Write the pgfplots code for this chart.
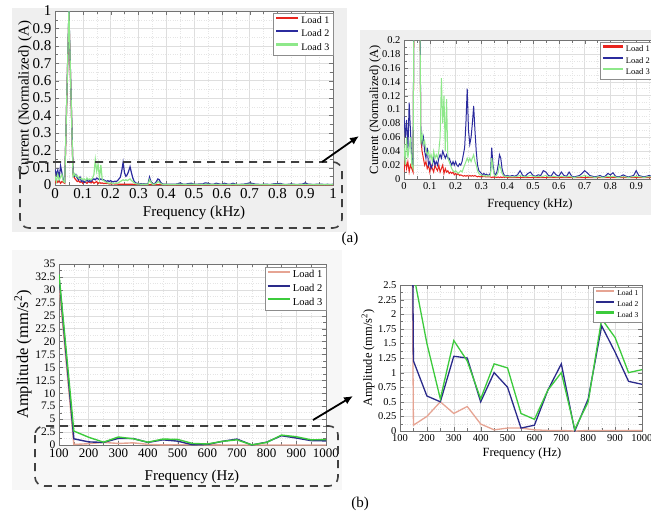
\documentclass[border=0pt]{standalone}
\usepackage{fontspec}
\setmainfont{Liberation Serif}
\usepackage{pgfplots}
\pgfplotsset{compat=1.18}
\usepackage{pgfplotstable}
\usetikzlibrary{arrows.meta}

\definecolor{ared}{HTML}{E8251E}
\definecolor{ablue}{HTML}{2B2B9E}
\definecolor{agreen}{HTML}{8EE88A}
\definecolor{bpink}{HTML}{E6A493}
\definecolor{bblue}{HTML}{2A2A8A}
\definecolor{bgreen}{HTML}{3CCB3C}
\definecolor{panelgray}{HTML}{EFEFEF}

\newcommand\fs[1]{\fontsize{#1}{#1}\selectfont}

% current spectra (kHz), used by (a) left and (a) right
\pgfplotstableread{
f     l1    l2    l3
0.000 0.010 0.090 0.050
0.005 0.030 0.060 0.020
0.010 0.015 0.085 0.060
0.015 0.025 0.040 0.030
0.020 0.010 0.110 0.045
0.025 0.020 0.070 0.060
0.030 0.015 0.030 0.020
0.035 0.010 0.020 0.015
0.050 0.980 1.000 1.000
0.065 0.060 0.070 0.050
0.070 0.040 0.050 0.065
0.075 0.030 0.060 0.050
0.080 0.020 0.040 0.055
0.085 0.025 0.030 0.040
0.090 0.015 0.045 0.035
0.095 0.020 0.020 0.040
0.100 0.010 0.025 0.030
0.105 0.020 0.015 0.035
0.110 0.015 0.020 0.025
0.115 0.010 0.030 0.040
0.120 0.020 0.020 0.030
0.125 0.015 0.025 0.035
0.130 0.012 0.020 0.030
0.135 0.020 0.030 0.040
0.140 0.010 0.035 0.060
0.145 0.015 0.030 0.145
0.150 0.020 0.040 0.080
0.155 0.008 0.035 0.120
0.160 0.015 0.030 0.040
0.165 0.010 0.035 0.115
0.170 0.012 0.030 0.030
0.175 0.008 0.030 0.025
0.180 0.010 0.025 0.020
0.185 0.008 0.020 0.015
0.190 0.010 0.025 0.012
0.195 0.006 0.020 0.010
0.200 0.008 0.025 0.012
0.205 0.006 0.020 0.010
0.210 0.008 0.018 0.008
0.215 0.005 0.022 0.010
0.220 0.006 0.020 0.012
0.225 0.005 0.025 0.010
0.230 0.004 0.035 0.015
0.235 0.005 0.045 0.020
0.240 0.004 0.080 0.025
0.245 0.005 0.130 0.030
0.250 0.004 0.070 0.025
0.255 0.005 0.050 0.030
0.260 0.004 0.060 0.025
0.265 0.005 0.080 0.030
0.270 0.004 0.105 0.035
0.275 0.005 0.070 0.025
0.280 0.004 0.040 0.020
0.285 0.003 0.020 0.012
0.290 0.004 0.012 0.008
0.295 0.003 0.010 0.006
0.300 0.004 0.008 0.006
0.305 0.003 0.006 0.005
0.310 0.004 0.008 0.004
0.315 0.003 0.006 0.005
0.320 0.003 0.007 0.004
0.325 0.003 0.005 0.005
0.330 0.003 0.006 0.004
0.335 0.003 0.008 0.005
0.340 0.002 0.045 0.030
0.345 0.003 0.020 0.015
0.350 0.002 0.008 0.005
0.355 0.003 0.006 0.004
0.360 0.002 0.010 0.006
0.365 0.003 0.020 0.010
0.370 0.002 0.035 0.020
0.375 0.003 0.030 0.015
0.380 0.002 0.015 0.008
0.385 0.003 0.008 0.005
0.390 0.002 0.005 0.004
0.395 0.003 0.004 0.003
0.400 0.002 0.005 0.004
0.410 0.002 0.004 0.003
0.420 0.002 0.005 0.003
0.430 0.002 0.004 0.003
0.440 0.002 0.006 0.004
0.450 0.002 0.012 0.005
0.460 0.002 0.005 0.004
0.470 0.002 0.004 0.003
0.480 0.002 0.008 0.004
0.490 0.002 0.010 0.005
0.500 0.002 0.005 0.004
0.510 0.002 0.004 0.003
0.520 0.002 0.006 0.004
0.530 0.002 0.005 0.003
0.540 0.002 0.012 0.004
0.550 0.002 0.010 0.005
0.560 0.002 0.005 0.003
0.570 0.002 0.004 0.003
0.580 0.002 0.010 0.004
0.590 0.002 0.006 0.003
0.600 0.002 0.004 0.003
0.610 0.002 0.010 0.004
0.620 0.002 0.005 0.003
0.630 0.002 0.004 0.003
0.640 0.002 0.010 0.004
0.650 0.002 0.004 0.003
0.660 0.002 0.003 0.002
0.670 0.002 0.004 0.003
0.680 0.002 0.005 0.003
0.690 0.002 0.008 0.004
0.700 0.002 0.012 0.005
0.710 0.002 0.009 0.004
0.720 0.002 0.005 0.003
0.730 0.002 0.004 0.003
0.740 0.002 0.003 0.002
0.750 0.002 0.004 0.003
0.760 0.002 0.005 0.003
0.770 0.002 0.003 0.002
0.780 0.002 0.004 0.003
0.790 0.002 0.008 0.004
0.800 0.002 0.006 0.003
0.810 0.002 0.009 0.004
0.820 0.002 0.004 0.003
0.830 0.002 0.003 0.002
0.840 0.002 0.004 0.003
0.850 0.002 0.006 0.003
0.860 0.002 0.004 0.003
0.870 0.002 0.003 0.002
0.880 0.002 0.004 0.003
0.890 0.002 0.005 0.003
0.900 0.002 0.012 0.004
0.910 0.002 0.005 0.003
0.920 0.002 0.004 0.003
0.930 0.002 0.003 0.002
0.940 0.002 0.004 0.003
0.950 0.002 0.005 0.003
0.960 0.002 0.004 0.003
0.970 0.002 0.003 0.002
0.980 0.002 0.004 0.003
0.990 0.002 0.003 0.002
1.000 0.002 0.004 0.003
}\cur

% vibration amplitude (Hz), used by (b) left and (b) right
\pgfplotstableread{
f    l1    l2    l3
100  31.0  32.5  33.0
150  0.10  1.20  2.70
200  0.25  0.60  1.50
250  0.50  0.50  0.55
300  0.30  1.28  1.55
350  0.42  1.25  1.20
400  0.12  0.50  0.55
450  0.02  1.00  1.15
500  0.05  0.75  1.08
550  0.05  0.05  0.30
600  0.02  0.10  0.20
650  0.01  0.70  0.70
700  0.01  1.15  1.00
750  0.00  0.00  0.03
800  0.01  0.55  0.50
850  0.01  1.80  1.92
900  0.01  1.35  1.60
950  0.01  0.85  1.00
1000 0.01  0.80  1.05
}\vib

\pgfplotsset{
  matstyle/.style={
    scale only axis, anchor=north west,
    axis line style={black!55}, tick style={black!55},
    tick align=inside, grid=both, minor tick num=1,
    major grid style={black!13}, minor grid style={black!10, dotted},
    /pgf/number format/assume math mode=true,
    /pgf/number format/fixed, /pgf/number format/precision=3,
    /pgf/number format/1000 sep={},
    scaled ticks=false,
    axis background/.style={fill=white},
    legend cell align=left,
    legend style={draw=black!45, fill=white, inner sep=1.5pt},
  },
  samp/.style={legend image code/.code={%
    \draw[##1, line width=2.2pt, yshift=0.3em] (0pt,0pt) -- (#1,0pt);}},
}

\begin{document}
\begin{tikzpicture}
\useasboundingbox (0pt,0pt) rectangle (651pt,-515pt);
\clip (0pt,0pt) rectangle (651pt,-515pt);

\fill[panelgray] (12pt,-8pt) rectangle (347pt,-232pt);
\fill[panelgray] (360pt,-30pt) rectangle (651pt,-215pt);
\fill[black!3] (12pt,-250pt) rectangle (342pt,-490pt);

% (a) left
\begin{axis}[matstyle, samp=22pt,
  at={(55pt,-11pt)}, width=278pt, height=174pt,
  xmin=0, xmax=1, ymin=0, ymax=1,
  xtick={0,0.1,0.2,0.3,0.4,0.5,0.6,0.7,0.8,0.9,1},
  ytick={0,0.1,0.2,0.3,0.4,0.5,0.6,0.7,0.8,0.9,1},
  ticklabel style={font=\fs{15}},
  xlabel={Frequency (kHz)}, ylabel={Current (Normalized) (A)},
  label style={font=\fs{15}},
  xlabel style={at={(axis description cs:0.5,-0.161)}, anchor=center},
  ylabel style={at={(axis description cs:-0.108,0.5)}, anchor=center},
  legend style={at={(1,0.99)}, anchor=north east, font=\fs{10}, row sep=1pt},
]
\addplot[ared, line width=1.2pt] table[x=f, y=l1] {\cur};
\addplot[ablue, line width=1.2pt] table[x=f, y=l2] {\cur};
\addplot[agreen, line width=1.2pt] table[x=f, y=l3] {\cur};
\legend{Load 1, Load 2, Load 3}
\end{axis}

% (a) right, zoom of the dashed area
\begin{axis}[matstyle, samp=20pt,
  at={(404pt,-40pt)}, width=258pt, height=139pt,
  xmin=0, xmax=1, ymin=0, ymax=0.2,
  xtick={0,0.1,0.2,0.3,0.4,0.5,0.6,0.7,0.8,0.9,1},
  ytick={0,0.02,0.04,0.06,0.08,0.1,0.12,0.14,0.16,0.18,0.2},
  ticklabel style={font=\fs{10.5}},
  xlabel={Frequency (kHz)}, ylabel={Current (Normalized) (A)},
  label style={font=\fs{12.5}},
  xlabel style={at={(axis description cs:0.488,-0.187)}, anchor=center},
  ylabel style={at={(axis description cs:-0.112,0.5)}, anchor=center},
  legend style={at={(0.76,0.985)}, anchor=north west, font=\fs{8.5}, row sep=0pt},
]
\addplot[ared, line width=1pt] table[x=f, y=l1] {\cur};
\addplot[ablue, line width=1pt] table[x=f, y=l2] {\cur};
\addplot[agreen, line width=1pt] table[x=f, y=l3] {\cur};
\legend{Load 1, Load 2, Load 3}
\end{axis}

% (b) left
\begin{axis}[matstyle, samp=22pt,
  at={(59pt,-264pt)}, width=267pt, height=181pt,
  xmin=100, xmax=1000, ymin=0, ymax=35,
  xtick={100,200,300,400,500,600,700,800,900,1000},
  ytick={0,2.5,5,7.5,10,12.5,15,17.5,20,22.5,25,27.5,30,32.5,35},
  xticklabel style={font=\fs{13}}, yticklabel style={font=\fs{11.5}},
  xlabel={Frequency (Hz)}, ylabel={Amplitude (mm/s\textsuperscript{2})},
  xlabel style={font=\fs{15}, at={(axis description cs:0.498,-0.177)}, anchor=center},
  ylabel style={font=\fs{16.5}, at={(axis description cs:-0.135,0.5)}, anchor=center},
  legend style={at={(1,0.985)}, anchor=north east, font=\fs{10.5}, row sep=1pt},
]
\addplot[bpink, line width=1.4pt] table[x=f, y=l1] {\vib};
\addplot[bblue, line width=1.4pt] table[x=f, y=l2] {\vib};
\addplot[bgreen, line width=1.4pt] table[x=f, y=l3] {\vib};
\legend{Load 1, Load 2, Load 3}
\end{axis}

% (b) right, zoom of the dashed area
\begin{axis}[matstyle, samp=18pt,
  at={(400pt,-285pt)}, width=242pt, height=146pt,
  xmin=100, xmax=1000, ymin=0, ymax=2.5,
  xtick={100,200,300,400,500,600,700,800,900,1000},
  ytick={0,0.25,0.5,0.75,1,1.25,1.5,1.75,2,2.25,2.5},
  ticklabel style={font=\fs{10.5}},
  xlabel={Frequency (Hz)}, ylabel={Amplitude (mm/s\textsuperscript{2})},
  label style={font=\fs{12.5}},
  xlabel style={at={(axis description cs:0.504,-0.151)}, anchor=center},
  ylabel style={at={(axis description cs:-0.132,0.5)}, anchor=center},
  legend style={at={(1,0.986)}, anchor=north east, font=\fs{7.5}, row sep=0pt},
]
\addplot[bpink, line width=1.3pt] table[x=f, y=l1] {\vib};
\addplot[bblue, line width=1.3pt] table[x=f, y=l2] {\vib};
\addplot[bgreen, line width=1.3pt] table[x=f, y=l3] {\vib};
\legend{Load 1, Load 2, Load 3}
\end{axis}

% dashed zoom frames and arrows
\draw[black!75, line width=1.6pt, dash pattern=on 8pt off 6pt, rounded corners=9pt]
  (20pt,-162pt) rectangle (342pt,-228pt);
\draw[black!75, line width=1.6pt, dash pattern=on 8pt off 6pt, rounded corners=9pt]
  (35pt,-426pt) rectangle (338pt,-486pt);
\draw[line width=1.8pt, -{Latex[length=9pt,width=8pt]}] (322pt,-162pt) -- (359pt,-136pt);
\draw[line width=1.8pt, -{Latex[length=9pt,width=8pt]}] (313pt,-420pt) -- (353pt,-396pt);

\node[font=\fs{15}] at (350pt,-239pt) {(a)};
\node[font=\fs{15}] at (360pt,-504pt) {(b)};
\end{tikzpicture}
\end{document}
